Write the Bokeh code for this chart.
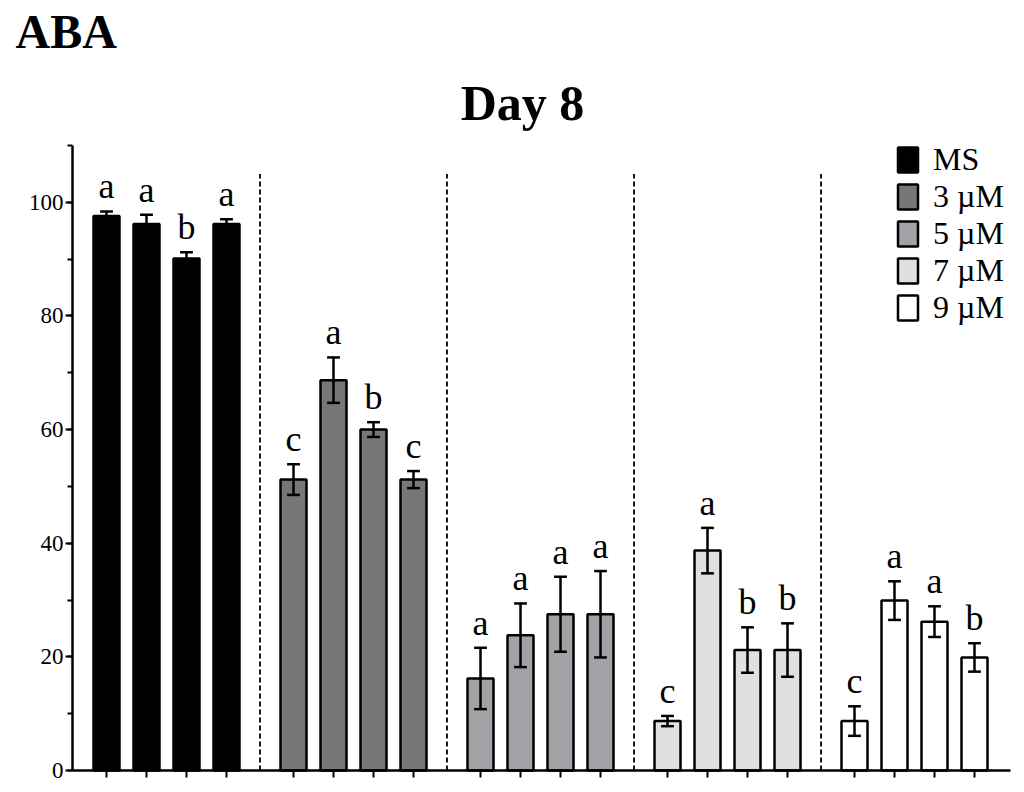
from bokeh.plotting import figure
from bokeh.models import (Range1d, SingleIntervalTicker, FixedTicker, Legend, LegendItem,
                          ColumnDataSource, CustomLabelingPolicy)
from bokeh.core.properties import value
from bokeh.embed import file_html
from bokeh.resources import INLINE

FONT = "Liberation Serif"

groups = ["MS", "3 µM", "5 µM", "7 µM", "9 µM"]
colors = ["#000000", "#777777", "#a2a2a6", "#e0e0e0", "#ffffff"]
means = [
    [97.6, 96.2, 90.1, 96.2],
    [51.2, 68.7, 60.0, 51.2],
    [16.2, 23.8, 27.5, 27.5],
    [8.7, 38.7, 21.2, 21.2],
    [8.7, 29.9, 26.2, 19.9],
]
errs = [
    [0.8, 1.6, 1.1, 0.8],
    [2.7, 4.0, 1.3, 1.5],
    [5.4, 5.6, 6.6, 7.6],
    [0.9, 4.0, 4.0, 4.7],
    [2.6, 3.4, 2.7, 2.5],
]
letters = [
    ["a", "a", "b", "a"],
    ["c", "a", "b", "c"],
    ["a", "a", "a", "a"],
    ["c", "a", "b", "b"],
    ["c", "a", "a", "b"],
]
panel_title = "ABA"
chart_title = "Day 8"
y_ticks_interval = 20
y_max = 110

GROUP_STEP = 4.675
BAR_W = 0.65
CAP = 0.16
X_LEFT = -0.85   # where the y axis sits
X_RIGHT = 22.6   # end of the x axis

W, H = 1014, 784
PX_X = 40.0            # px per x unit
PX_Y = 625.0 / y_max   # px per y unit
X0_PX, Y0_PX = 106, 770

p = figure(width=W, height=H, output_backend="svg", toolbar_location=None,
           x_range=Range1d(-X0_PX / PX_X, (W - X0_PX) / PX_X),
           y_range=Range1d(-(H - Y0_PX) / PX_Y, Y0_PX / PX_Y),
           min_border_left=0, min_border_right=0, min_border_top=0, min_border_bottom=0)
p.outline_line_color = None
p.xgrid.visible = False
p.ygrid.visible = False
p.background_fill_color = "white"

all_x = []
legend_items = []
for g, name in enumerate(groups):
    xs = [g * GROUP_STEP + i for i in range(len(means[g]))]
    all_x += xs
    tops = [m + e for m, e in zip(means[g], errs[g])]
    bots = [m - e for m, e in zip(means[g], errs[g])]
    src = ColumnDataSource(dict(x=xs, top=means[g], up=tops, lo=bots,
                                cl=[x - CAP for x in xs], cr=[x + CAP for x in xs],
                                ly=[t + 0.9 for t in tops], lab=letters[g]))
    r = p.vbar(x="x", top="top", width=BAR_W, bottom=0, source=src,
               fill_color=colors[g], line_color="black", line_width=2.5)
    legend_items.append(LegendItem(label=name, renderers=[r]))
    p.segment(x0="x", y0="lo", x1="x", y1="up", source=src, line_color="black", line_width=2.5)
    p.segment(x0="cl", y0="up", x1="cr", y1="up", source=src, line_color="black", line_width=2.5)
    p.segment(x0="cl", y0="lo", x1="cr", y1="lo", source=src, line_color="black", line_width=2.5)
    p.text(x="x", y="ly", text="lab", source=src, text_align="center", text_baseline="bottom",
           text_font=value(FONT), text_font_size="36px", text_color="black")

    if g < len(groups) - 1:
        xd = g * GROUP_STEP + 3 + (GROUP_STEP - 3) / 2
        p.segment(x0=[xd], y0=[0], x1=[xd], y1=[105], line_color="black",
                  line_width=1.8, line_dash="5 3")

# axes, fixed at the data positions of the original chart's axis lines
p.yaxis.fixed_location = X_LEFT
p.yaxis.bounds = (0, y_max)
p.yaxis.ticker = SingleIntervalTicker(interval=y_ticks_interval, num_minor_ticks=2)
p.yaxis.axis_line_width = 2.5
p.yaxis.major_tick_line_width = 2
p.yaxis.minor_tick_line_width = 2
p.yaxis.major_tick_out = 7
p.yaxis.major_tick_in = 0
p.yaxis.minor_tick_out = 5
p.yaxis.minor_tick_in = 0
p.yaxis.major_label_text_font = FONT
p.yaxis.major_label_text_font_size = "23px"
p.yaxis.major_label_text_color = "black"
p.yaxis.major_label_standoff = 2

p.xaxis.fixed_location = 0
p.xaxis.bounds = (X_LEFT, X_RIGHT)
p.xaxis.ticker = FixedTicker(ticks=all_x, minor_ticks=[])
p.xaxis.axis_line_width = 2.5
p.xaxis.major_tick_line_width = 2
p.xaxis.major_tick_out = 7
p.xaxis.major_tick_in = 0
p.xaxis.minor_tick_out = 0
p.xaxis.major_label_policy = CustomLabelingPolicy(code="return new Set()")
p.xaxis.major_label_text_font_size = "1px"
p.xaxis.major_label_standoff = 0

legend = Legend(items=legend_items, location=(895, H - 326), orientation="vertical",
                glyph_width=25, glyph_height=31, label_height=31, label_standoff=13,
                spacing=0, padding=0, margin=0, border_line_color=None,
                background_fill_alpha=0, label_text_font=FONT, label_text_font_size="32px",
                label_text_color="black")
p.add_layout(legend)

# titles as text in data space (frame covers the whole canvas)
p.text(x=[(522 - X0_PX) / PX_X], y=[(Y0_PX - 130) / PX_Y], text=[chart_title],
       text_align="center", text_baseline="bottom", text_font=value(FONT),
       text_font_size="50px", text_font_style="bold", text_color="black")
p.text(x=[(15 - X0_PX) / PX_X], y=[(Y0_PX - 57) / PX_Y], text=[panel_title],
       text_align="left", text_baseline="bottom", text_font=value(FONT),
       text_font_size="48px", text_font_style="bold", text_color="black")

open("out.html", "w").write(file_html(p, INLINE))
